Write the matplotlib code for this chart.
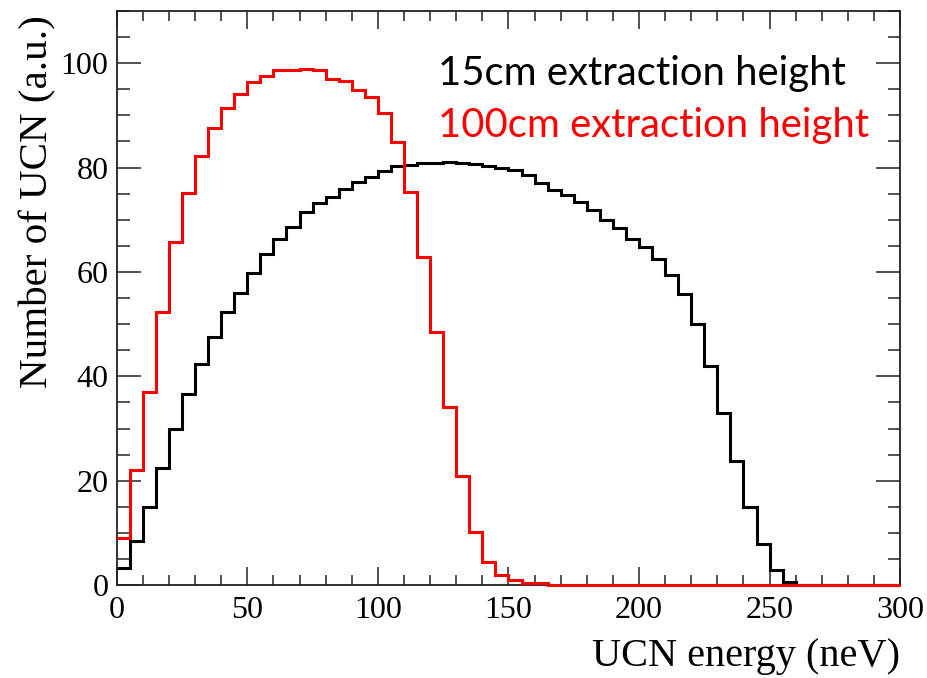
import numpy as np
import matplotlib
matplotlib.use("Agg")
import matplotlib.pyplot as plt
from matplotlib.ticker import MultipleLocator

# ---- data ----
bin_width = 5
n_bins = 60
counts_15cm = [3.2, 8.5, 14.9, 22.4, 29.9, 36.7, 42.3, 47.6, 52.3, 56.0,
               59.8, 63.5, 66.3, 68.7, 71.4, 73.2, 74.4, 75.9, 77.2, 78.2,
               79.3, 80.3, 80.5, 80.8, 80.8, 81.0, 80.9, 80.6, 80.3, 79.9,
               79.5, 78.5, 77.0, 75.8, 74.7, 73.4, 71.8, 70.0, 68.4, 66.3,
               64.7, 62.5, 59.4, 55.8, 50.1, 42.0, 33.0, 23.8, 15.0, 7.8,
               2.9, 0.7, 0, 0, 0, 0, 0, 0, 0, 0]
counts_100cm = [9.0, 22.0, 37.0, 52.3, 65.7, 75.2, 82.3, 87.6, 91.5, 94.1,
                96.4, 97.6, 98.6, 98.6, 98.9, 98.6, 97.0, 96.6, 94.8, 93.5,
                90.4, 84.9, 75.3, 62.9, 48.5, 34.2, 20.9, 10.2, 4.5, 1.9,
                1.0, 0.35, 0.35, 0, 0, 0, 0, 0, 0, 0,
                0, 0, 0, 0, 0, 0, 0, 0, 0, 0,
                0, 0, 0, 0, 0, 0, 0, 0, 0, 0]
label_15cm = "15cm extraction height"
label_100cm = "100cm extraction height"
x_title = "UCN energy (neV)"
y_title = "Number of UCN (a.u.)"
x_ticks = [0, 50, 100, 150, 200, 250, 300]
y_ticks = [0, 20, 40, 60, 80, 100]

edges = np.arange(n_bins + 1) * bin_width

fig = plt.figure(figsize=(9.28, 6.78), dpi=100)
ax = fig.add_axes([0.1258, 0.1369, 0.8442, 0.8469])

ax.stairs(counts_15cm, edges, baseline=None, color="black", linewidth=2.2,
          zorder=3, clip_on=False)
ax.stairs(counts_100cm, edges, baseline=None, color="red", linewidth=2.2,
          zorder=4, clip_on=False)

ax.set_xlim(0, 300)
ax.set_ylim(0, 110)

ax.xaxis.set_major_locator(MultipleLocator(50))
ax.xaxis.set_minor_locator(MultipleLocator(10))
ax.yaxis.set_major_locator(MultipleLocator(20))
ax.yaxis.set_minor_locator(MultipleLocator(5))
ax.set_xticks(x_ticks)
ax.set_yticks(y_ticks)

serif = "Liberation Serif"
ax.tick_params(which="both", direction="in", top=True, right=True,
               width=1.1, color="#222222")
ax.tick_params(axis="x", which="major", length=13, pad=8)
ax.tick_params(axis="x", which="minor", length=7)
ax.tick_params(axis="y", which="major", length=17, pad=6)
ax.tick_params(axis="y", which="minor", length=9)
for lab in ax.get_xticklabels() + ax.get_yticklabels():
    lab.set_fontfamily(serif)
    lab.set_fontsize(23)

for sp in ax.spines.values():
    sp.set_linewidth(1.3)
    sp.set_color("#222222")

ax.text(1.0, -0.125, x_title, transform=ax.transAxes, ha="right",
        va="center", fontsize=29, family=serif)
ax.text(-0.1004, 0.993, y_title, transform=ax.transAxes, ha="center",
        va="top", rotation=90, fontsize=29.5, family=serif)

ax.text(123, 95.9, label_15cm, color="black", fontsize=28.8, family="Lato",
        va="baseline", ha="left")
ax.text(123, 85.8, label_100cm, color="red", fontsize=28.8, family="Lato",
        va="baseline", ha="left")

fig.savefig("out.png", dpi=100)
